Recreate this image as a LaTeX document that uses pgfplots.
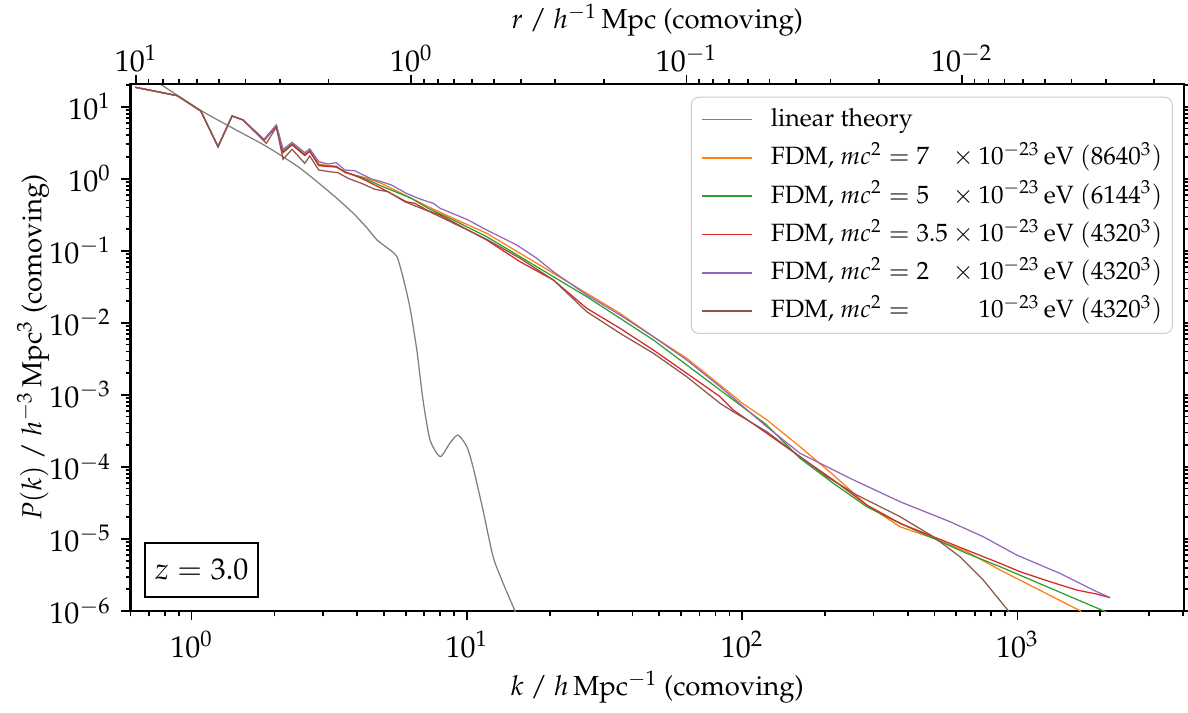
\documentclass[12pt,border=0pt]{standalone}
\usepackage[T1]{fontenc}
\usepackage{mathpazo}
\usepackage{pgfplots}
\pgfplotsset{compat=1.18}
\definecolor{tabgray}{RGB}{127,127,127}
\definecolor{taborange}{RGB}{255,127,14}
\definecolor{tabgreen}{RGB}{44,160,44}
\definecolor{tabred}{RGB}{214,39,40}
\definecolor{tabpurple}{RGB}{148,103,189}
\definecolor{tabbrown}{RGB}{140,86,75}
\pgfplotsset{
  commonstyle/.style={
    scale only axis, width=421.4pt, height=210.8pt,
    at={(0,0)}, anchor=south west,
    tick align=outside,
    major tick length=3.7pt, minor tick length=2pt,
    every tick/.style={black, line width=0.7pt},
    axis line style={line width=0.9pt},
    label style={font=\fontsize{11}{13.2}\selectfont},
  }
}
\begin{document}
\begin{tikzpicture}
\begin{axis}[commonstyle,
  xmode=log, ymode=log,
  xmin=0.6, xmax=4030, ymin=1e-6, ymax=20.66,
  xtick={1,10,100,1000},
  minor xtick={0.6,0.7,0.8,0.9,2,3,4,5,6,7,8,9,20,30,40,50,60,70,80,90,200,300,400,500,600,700,800,900,2000,3000,4000},
  ytick={1e-6,1e-5,1e-4,1e-3,1e-2,1e-1,1,10},
  minor ytick={2e-6,3e-6,4e-6,5e-6,6e-6,7e-6,8e-6,9e-6,2e-5,3e-5,4e-5,5e-5,6e-5,7e-5,8e-5,9e-5,2e-4,3e-4,4e-4,5e-4,6e-4,7e-4,8e-4,9e-4,2e-3,3e-3,4e-3,5e-3,6e-3,7e-3,8e-3,9e-3,2e-2,3e-2,4e-2,5e-2,6e-2,7e-2,8e-2,9e-2,0.2,0.3,0.4,0.5,0.6,0.7,0.8,0.9,2,3,4,5,6,7,8,9,20},
  xtick pos=left, ytick pos=both, yticklabel pos=left,
  xlabel={$k$ / $h\,$Mpc$^{-1}$ (comoving)},
  ylabel={$P(k)$ / $h^{-3}\,$Mpc$^{3}$ (comoving)},
  xlabel style={at={(axis description cs:0.5,-0.1594)}, anchor=base},
  ylabel style={at={(axis description cs:-0.0925,0.5)}, anchor=center},
  legend cell align=left,
  legend style={at={(rel axis cs:0.9893,0.9759)}, anchor=north east,
    draw=black!20, rounded corners=3pt, fill=white,
    font=\fontsize{10}{12}\selectfont, inner xsep=4pt, inner ysep=3.7pt,
    row sep=4.82pt, column sep=7.2pt,
    nodes={inner sep=0pt, text height=8pt, text depth=2.5pt}},
  legend image code/.code={\draw[#1, line width=0.6pt] (0pt,0pt) -- (20pt,0pt);},
]
\addplot[draw=tabgray, line width=0.5pt, smooth, tension=0.4] coordinates {
(0.60,38) (0.768,20.7) (1.074,9.0) (1.415,5.01) (1.876,2.79) (2.479,1.40)
(3.266,0.594) (3.86,0.334) (4.34,0.207) (4.72,0.141) (5.26,0.1026) (5.58,0.0819)
(5.86,0.0432) (6.22,0.0160) (6.58,0.0042) (6.93,8.5e-4) (7.35,2.37e-4) (8.0,1.39e-4)
(8.69,2.15e-4) (9.29,2.77e-4) (10.0,1.91e-4) (10.53,1.0e-4) (11.45,2.5e-5)
(12.45,5.7e-6) (13.53,2.45e-6) (14.96,1e-6) (15.6,6.5e-7)};
\addlegendentry{linear theory}
\addplot[draw=taborange, line width=0.5pt] coordinates {
(0.625,18.59) (0.888,14.21) (1.080,8.72) (1.248,2.785) (1.403,7.43) (1.539,6.54)
(1.834,3.45) (1.923,4.27) (2.032,5.40) (2.150,2.45) (2.318,3.035) (2.578,2.20)
(2.688,2.45) (2.897,1.60) (3.132,1.52) (3.357,1.50) (3.602,1.213) (4.139,1.067)
(4.891,0.864) (5.471,0.698) (6.287,0.535) (7.230,0.409) (8.933,0.2824) (11.81,0.1748)
(15.61,0.0923) (20.62,0.0487) (27.27,0.02569) (36.02,0.01355) (47.60,6.42e-3)
(62.93,3.22e-3) (83.14,1.371e-3) (100.0,7.7e-4) (122.9,4.50e-4) (162.3,1.907e-4) (214.5,7.72e-5)
(283.6,2.96e-5) (374.7,1.479e-5) (495.0,1.021e-5) (654.3,6.65e-6) (864.8,3.71e-6)
(1142.5,2.16e-6) (1510.3,1.254e-6) (1688.3,1.01e-6) (1760,8.2e-7)};
\addlegendentry{FDM, $mc^2 = \rlap{$7$}\phantom{3.5} \times 10^{-23}\,$eV $(8640^3)$}
\addplot[draw=tabgreen, line width=0.5pt] coordinates {
(0.625,18.59) (0.888,14.21) (1.080,8.72) (1.248,2.785) (1.403,7.43) (1.539,6.54)
(1.834,3.45) (2.032,5.40) (2.150,2.373) (2.318,3.035) (2.578,2.136) (2.688,2.427)
(2.897,1.551) (3.132,1.503) (3.357,1.47) (3.602,1.240) (4.139,1.047) (4.891,0.793)
(6.287,0.535) (7.230,0.389) (8.933,0.2675) (11.81,0.1568) (15.61,0.0828) (20.62,0.0437)
(27.27,0.02305) (36.02,0.01156) (47.60,5.78e-3) (62.93,2.60e-3) (83.14,1.168e-3)
(122.9,3.82e-4) (162.3,1.316e-4) (214.5,5.92e-5) (283.6,2.80e-5) (374.7,1.649e-5)
(495.0,1.021e-5) (654.3,6.32e-6) (864.8,4.12e-6) (1142.5,2.62e-6) (1510.3,1.66e-6)
(2051,1.01e-6) (2157,9.2e-7)};
\addlegendentry{FDM, $mc^2 = \rlap{$5$}\phantom{3.5} \times 10^{-23}\,$eV $(6144^3)$}
\addplot[draw=tabred, line width=0.5pt] coordinates {
(0.625,18.59) (0.888,14.21) (1.080,8.72) (1.248,2.785) (1.403,7.43) (1.539,6.54)
(1.834,3.40) (2.032,5.40) (2.150,2.30) (2.318,2.95) (2.578,2.10) (2.688,2.40)
(2.897,1.52) (3.132,1.48) (3.357,1.45) (3.602,1.252) (4.139,1.014) (4.891,0.737)
(6.030,0.480) (6.468,0.456) (7.230,0.360) (7.992,0.3139) (11.81,0.1411) (15.61,0.0705)
(20.62,0.0393) (27.27,0.0159) (36.02,8.39e-3) (47.60,4.19e-3) (62.93,1.992e-3)
(83.14,9.43e-4) (92.9,6.16e-4) (122.9,2.93e-4) (162.3,1.385e-4) (214.5,6.58e-5)
(283.6,2.96e-5) (374.7,1.649e-5) (495.0,1.074e-5) (654.3,7.02e-6) (864.8,4.59e-6)
(1022,3.51e-6) (1313,2.55e-6) (1642,1.955e-6) (1941,1.72e-6) (2170,1.529e-6)};
\addlegendentry{FDM, $mc^2 = 3.5 \times 10^{-23}\,$eV $(4320^3)$}
\addplot[draw=tabpurple, line width=0.5pt] coordinates {
(0.625,18.59) (0.888,14.21) (1.080,8.72) (1.248,2.785) (1.403,7.43) (1.539,6.54)
(1.834,3.53) (2.032,5.6) (2.150,2.56) (2.318,3.2) (2.578,2.3) (2.688,2.6)
(2.897,1.724) (3.132,1.602) (3.357,1.67) (3.602,1.322) (3.915,1.293) (4.499,0.992)
(4.891,0.910) (5.318,0.819) (6.030,0.628) (6.648,0.535) (7.230,0.480) (7.556,0.456)
(7.992,0.389) (9.99,0.2735) (11.81,0.1943) (15.18,0.1203) (17.95,0.0786) (20.62,0.0512)
(27.27,0.02433) (36.02,0.01284) (47.60,6.42e-3) (62.93,3.05e-3) (83.14,1.298e-3)
(122.9,3.61e-4) (162.3,1.545e-4) (246.6,6.95e-5) (374.7,3.29e-5) (569.2,1.735e-5)
(751.6,1.074e-5) (994.3,5.98e-6) (1427.7,3.33e-6) (1886.5,1.955e-6) (2157,1.549e-6)};
\addlegendentry{FDM, $mc^2 = \rlap{$2$}\phantom{3.5} \times 10^{-23}\,$eV $(4320^3)$}
\addplot[draw=tabbrown, line width=0.5pt] coordinates {
(0.625,18.59) (0.888,14.21) (1.080,8.72) (1.248,2.785) (1.403,7.43) (1.539,6.54)
(1.869,3.10) (2.032,5.2) (2.150,1.862) (2.318,2.56) (2.578,1.638) (2.688,2.069)
(2.897,1.322) (3.177,1.252) (3.406,1.213) (3.703,1.014) (4.139,0.864) (4.629,0.714)
(5.173,0.661) (5.950,0.480) (7.230,0.3566) (7.992,0.2972) (11.81,0.1443) (15.61,0.0786)
(20.62,0.0393) (27.27,0.01427) (36.02,7.15e-3) (47.60,3.78e-3) (62.93,1.787e-3)
(83.14,7.63e-4) (92.9,5.84e-4) (122.9,3.08e-4) (162.3,1.385e-4) (203.0,7.31e-5)
(260.9,4.07e-5) (374.7,2.04e-5) (495.0,1.074e-5) (618.6,5.67e-6) (751.6,2.69e-6)
(926.6,1.01e-6) (955.9,8.0e-7)};
\addlegendentry{FDM, $mc^2 = \phantom{3.5} \mathbin{\phantom{\times}} 10^{-23}\,$eV $(4320^3)$}
\node[draw, line width=0.9pt, anchor=south west, minimum width=45.2pt, minimum height=21.6pt, inner sep=0pt]
  at (rel axis cs:0.0128,0.0247) {$z = 3.0$};
\end{axis}
\begin{axis}[commonstyle,
  xmode=log, x dir=reverse,
  xmin=1.559e-3, xmax=10.472, ymin=0, ymax=1,
  axis x line*=top, hide y axis,
  xtick={0.01,0.1,1,10},
  minor xtick={0.002,0.003,0.004,0.005,0.006,0.007,0.008,0.009,0.02,0.03,0.04,0.05,0.06,0.07,0.08,0.09,0.2,0.3,0.4,0.5,0.6,0.7,0.8,0.9,2,3,4,5,6,7,8,9},
  xticklabel style={inner sep=0pt, yshift=1pt},
  xlabel={$r$ / $h^{-1}\,$Mpc (comoving)},
  xlabel style={at={(axis description cs:0.5,1.106)}, anchor=base, inner sep=0pt},
]
\addplot[draw=none] coordinates {(1,0.5)};
\end{axis}
\pgfresetboundingbox
\path[use as bounding box] (-52.2pt,-40.8pt) rectangle (423pt,244.4pt);
\end{tikzpicture}
\end{document}
